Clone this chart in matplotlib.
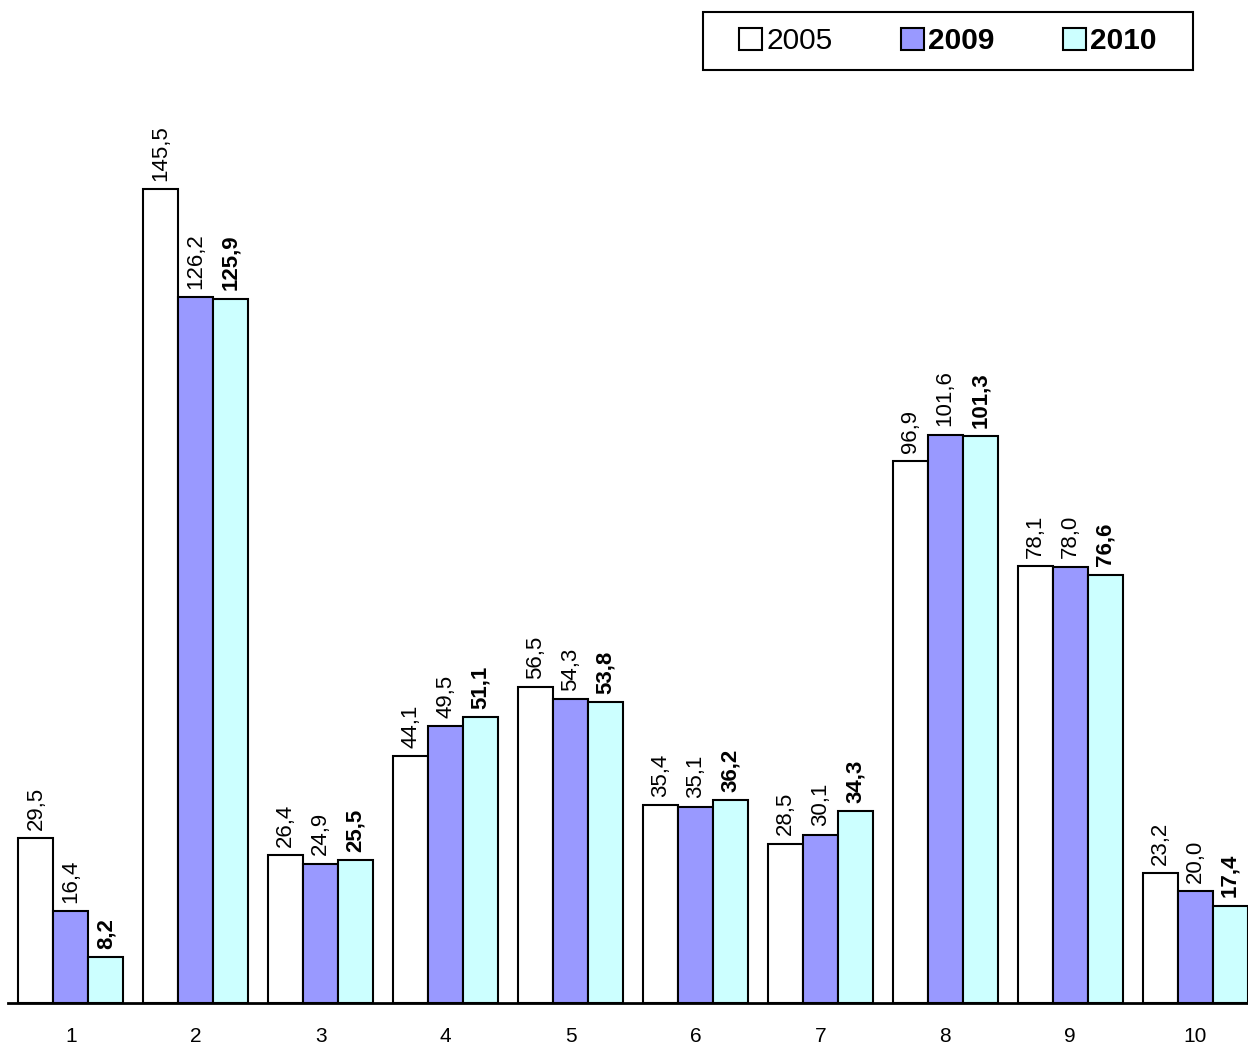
import numpy as np
import matplotlib
matplotlib.use("Agg")
import matplotlib.pyplot as plt
from matplotlib.patches import Patch, Rectangle

plt.rcParams['font.family'] = ['Liberation Sans', 'DejaVu Sans']

categories = ["1", "2", "3", "4", "5", "6", "7", "8", "9", "10"]
v2005 = [29.5, 145.5, 26.4, 44.1, 56.5, 35.4, 28.5, 96.9, 78.1, 23.2]
v2009 = [16.4, 126.2, 24.9, 49.5, 54.3, 35.1, 30.1, 101.6, 78.0, 20.0]
v2010 = [8.2, 125.9, 25.5, 51.1, 53.8, 36.2, 34.3, 101.3, 76.6, 17.4]

# name, values, colour, label weight, legend weight
series = [
    ("2005", v2005, "white", "normal", "normal"),
    ("2009", v2009, "#9999FF", "normal", "bold"),
    ("2010", v2010, "#CCFFFF", "bold", "bold"),
]

fig = plt.figure(figsize=(12.48, 10.45), dpi=100)
ax = fig.add_axes([8/1248, 42/1045, 1240/1248, 1003/1045])

x = np.arange(len(categories))
w = 0.28
for i, (name, vals, color, weight, _) in enumerate(series):
    pos = x + (i - 1) * w
    ax.bar(pos, vals, width=w, color=color, edgecolor="black", linewidth=1.5)
    for px, v in zip(pos, vals):
        ax.annotate(f"{v:.1f}".replace(".", ","), (px, v), xytext=(0, 6),
                    textcoords="offset points", rotation=90, ha="center",
                    va="bottom", fontsize=16, fontweight=weight)

ax.set_xlim(-0.504, 9.424)
ax.set_ylim(0, 179.3)
ax.set_xticks(x)
ax.set_xticklabels(categories, fontsize=15)
ax.tick_params(axis="x", length=0, pad=17)
ax.set_yticks([])
for s in ["top", "left", "right"]:
    ax.spines[s].set_visible(False)
ax.spines["bottom"].set_linewidth(2)

handles = [Patch(facecolor=c, edgecolor="black", linewidth=1.5) for _, _, c, _, _ in series]
leg = fig.legend(handles, [s[0] for s in series], ncol=3, loc="center",
                 bbox_to_anchor=(948/1248, 1 - 41/1045), fontsize=21.5,
                 frameon=False, handlelength=0.75, handleheight=0.75,
                 handletextpad=0.15, columnspacing=2.3, borderpad=0.5,
                 borderaxespad=0)
for t, s in zip(leg.get_texts(), series):
    t.set_fontweight(s[4])
fig.patches.append(Rectangle((703/1248, 1 - 70/1045), 490/1248, 58/1045,
                             transform=fig.transFigure, fill=False,
                             edgecolor="black", linewidth=1.5))

fig.savefig("out.png", dpi=100)
